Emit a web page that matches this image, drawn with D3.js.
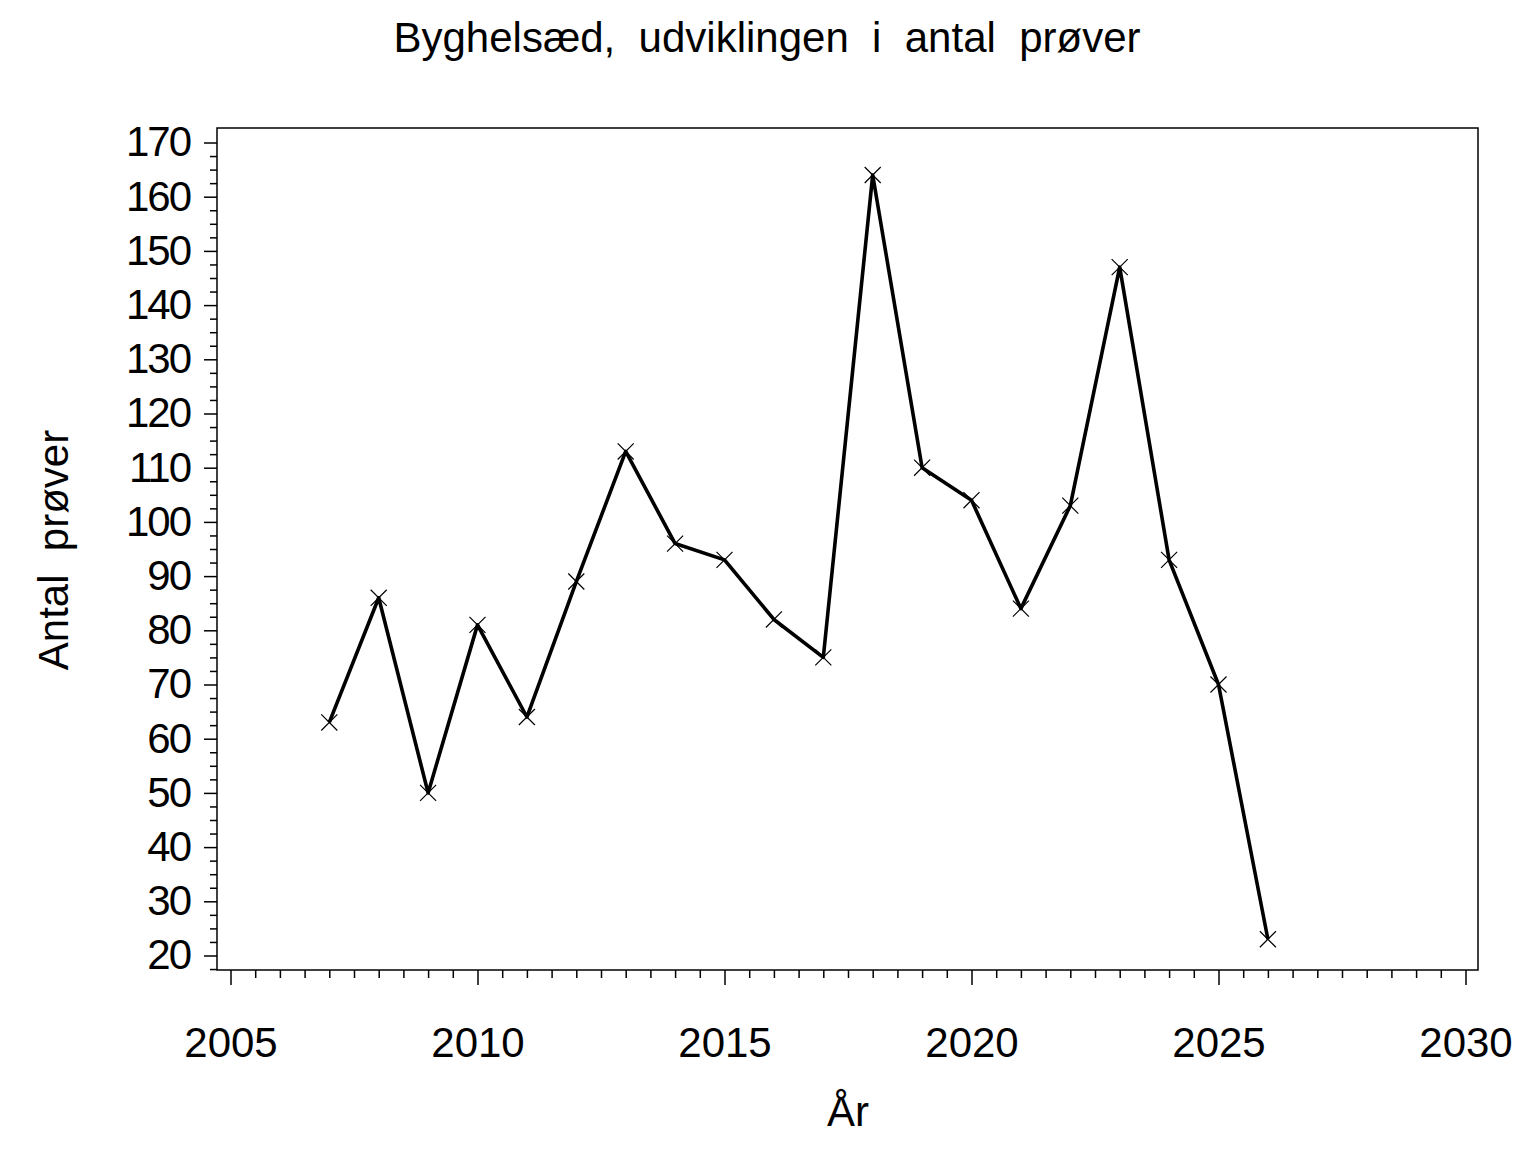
<!DOCTYPE html>
<html>
<head>
<meta charset="utf-8">
<script src="https://cdn.jsdelivr.net/npm/d3@7"></script>
<style>
  body { margin: 0; background: #fff; }
  text { font-family: "Liberation Sans", Arial, sans-serif; fill: #000; white-space: pre; }
</style>
</head>
<body>
<div id="chart"></div>
<script>
// data
const years = [2007, 2008, 2009, 2010, 2011, 2012, 2013, 2014, 2015, 2016,
               2017, 2018, 2019, 2020, 2021, 2022, 2023, 2024, 2025, 2026]
const counts = [63, 86, 50, 81, 64, 89, 113, 96, 93, 82,
                75, 164, 110, 104, 84, 103, 147, 93, 70, 23]
const xTicks = [2005, 2010, 2015, 2020, 2025, 2030]
const yTicks = [20, 30, 40, 50, 60, 70, 80, 90, 100, 110, 120, 130, 140, 150, 160, 170]

const titleText = 'Byghelsæd,  udviklingen  i  antal  prøver'
const xLabel = 'År'
const yLabel = 'Antal  prøver'

const w = 1536, h = 1152
const frame = {left: 217, right: 1478, top: 128, bottom: 970}

let svg = d3.select('#chart').append('svg')
  .attr('width', w)
  .attr('height', h)

let x = d3.scaleLinear().domain([2005, 2030]).range([230.5, 1465.5])
let y = d3.scaleLinear().domain([20, 170]).range([955.5, 142.5])

//frame
svg.append('rect')
  .attr('x', frame.left).attr('y', frame.top)
  .attr('width', frame.right - frame.left)
  .attr('height', frame.bottom - frame.top)
  .attr('fill', 'none').attr('stroke', '#000').attr('stroke-width', 1.5)

//x axis - minor ticks every half year
let xMinor = d3.range(2005, 2030.01, 0.5).filter(v => v % 5 != 0)
let xAxisG = svg.append('g').attr('transform', `translate(0,${frame.bottom})`)
xAxisG.append('g')
  .call(d3.axisBottom(x).tickValues(xMinor).tickSize(8).tickFormat(''))
xAxisG.append('g')
  .call(d3.axisBottom(x).tickValues(xTicks).tickSize(15).tickPadding(42).tickFormat(d3.format('d')))
xAxisG.selectAll('.domain').remove()
xAxisG.selectAll('line').attr('stroke', '#000').attr('stroke-width', 1.5)
xAxisG.selectAll('text').attr('font-size', 42).attr('font-family', '"Liberation Sans", Arial, sans-serif')

//y axis - minor ticks every 2.5
let yMinor = d3.range(17.5, 170.01, 2.5).filter(v => v % 10 != 0)
let yAxisG = svg.append('g').attr('transform', `translate(${frame.left},0)`)
yAxisG.append('g')
  .call(d3.axisLeft(y).tickValues(yMinor).tickSize(7).tickFormat(''))
yAxisG.append('g')
  .call(d3.axisLeft(y).tickValues(yTicks).tickSize(13).tickPadding(14).tickFormat(d3.format('d')))
yAxisG.selectAll('.domain').remove()
yAxisG.selectAll('line').attr('stroke', '#000').attr('stroke-width', 1.5)
yAxisG.selectAll('text')
  .attr('font-size', 42)
  .attr('letter-spacing', -2)
  .attr('font-family', '"Liberation Sans", Arial, sans-serif')

//series
let points = years.map((yr, i) => ({year: yr, value: counts[i]}))

svg.append('path')
  .datum(points)
  .attr('d', d3.line().x(d => x(d.year)).y(d => y(d.value)))
  .attr('fill', 'none')
  .attr('stroke', '#000')
  .attr('stroke-width', 3.6)
  .attr('stroke-linejoin', 'round')

//x markers
let sym = d3.symbol().type(d3.symbolX).size(170)
svg.selectAll('.marker')
  .data(points)
  .join('path')
  .attr('class', 'marker')
  .attr('transform', d => `translate(${x(d.year)},${y(d.value)})`)
  .attr('d', sym)
  .attr('fill', 'none')
  .attr('stroke', '#000')
  .attr('stroke-width', 1.2)

//labels
svg.append('text')
  .attr('x', 767).attr('y', 52)
  .attr('text-anchor', 'middle')
  .attr('font-size', 42)
  .text(titleText)

svg.append('text')
  .attr('x', 848).attr('y', 1126)
  .attr('text-anchor', 'middle')
  .attr('font-size', 42)
  .text(xLabel)

svg.append('text')
  .attr('transform', 'translate(68,550) rotate(-90)')
  .attr('text-anchor', 'middle')
  .attr('font-size', 42)
  .text(yLabel)
</script>
</body>
</html>
